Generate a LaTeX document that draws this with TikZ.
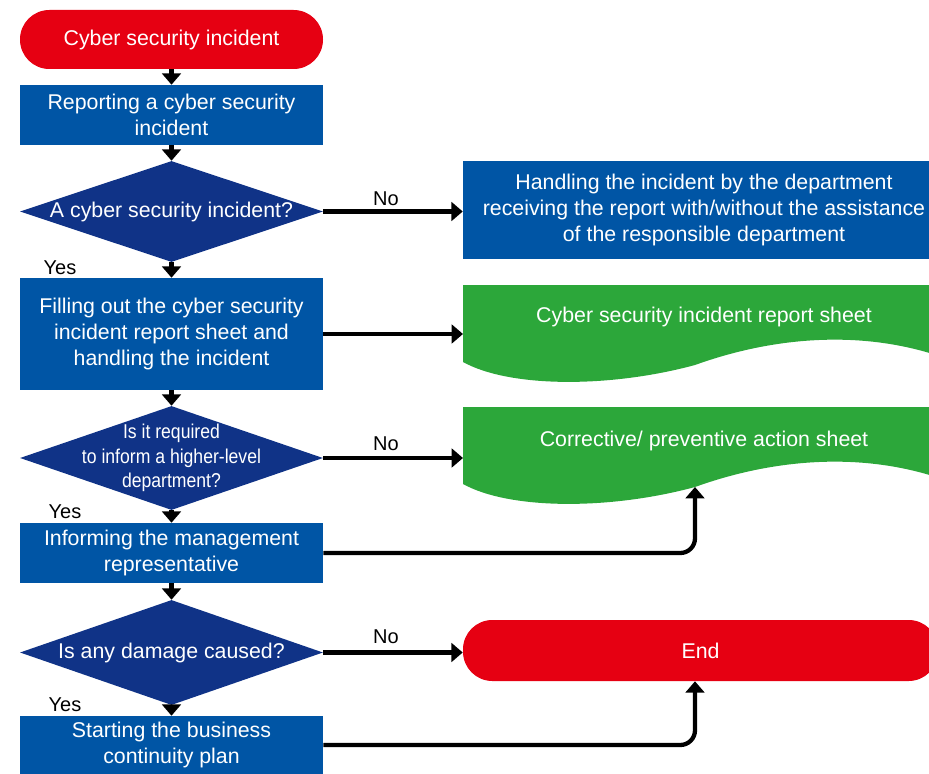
\documentclass[tikz,border=0pt]{standalone}
\usepackage{fontspec}
\setmainfont{Liberation Sans}
\newfontfamily\narrowfont[FakeStretch=0.88]{Liberation Sans}
\usepackage{tikz}
\usetikzlibrary{shapes.geometric,arrows.meta}

\definecolor{termred}{HTML}{E60012}
\definecolor{procblue}{HTML}{0055A5}
\definecolor{decnavy}{HTML}{103387}
\definecolor{sheetgreen}{HTML}{2CA73A}

\tikzset{
  boxfont/.style={font=\fontsize{16}{19.5}\selectfont},
  terminal/.style={rectangle, rounded corners=22pt, fill=termred, text=white, inner sep=0pt, boxfont},
  process/.style={rectangle, fill=procblue, text=white, align=center, inner sep=0pt, boxfont},
  decision/.style={diamond, fill=decnavy, inner sep=0pt, minimum width=227.25pt},
  dectext/.style={text=white, align=center, inner sep=0pt, boxfont},
  sheettext/.style={text=white, inner sep=0pt, boxfont},
  answer/.style={inner sep=0pt, font=\fontsize{15}{18}\selectfont},
  flow/.style={line width=3.2pt, -{Triangle[length=8.5pt,width=14pt]}},
}

\begin{document}
\begin{tikzpicture}[x=0.75pt,y=0.75pt,yscale=-1,xscale=1]
    \path[use as bounding box, clip] (0,0) rectangle (929,774);

    %Left column
    \node[terminal, minimum width=227.25pt, minimum height=44.25pt] (start) at (171.5,39.5) {Cyber security incident};
    \node[process, minimum width=227.25pt, minimum height=45pt] (report) at (171.5,115) {Reporting a cyber security\\incident};
    \node[decision, minimum height=75.75pt, label={[dectext]center:A cyber security incident?}] (q1) at (171.5,211.5) {};
    \node[process, minimum width=227.25pt, minimum height=84pt] (fill) at (171.5,334) {Filling out the cyber security\\incident report sheet and\\handling the incident};
    \node[decision, minimum height=78pt, label={[dectext, font=\narrowfont\fontsize{15}{18.5}\selectfont]center:{Is it required\\to inform a higher-level\\department?}}] (q2) at (171.5,458) {};
    \node[process, minimum width=227.25pt, minimum height=45pt] (inform) at (171.5,553) {Informing the management\\representative};
    \node[decision, minimum height=78.75pt, label={[dectext]center:Is any damage caused?}] (q3) at (171.5,652.5) {};
    \node[process, minimum width=227.25pt, minimum height=43.5pt] (bcp) at (171.5,745) {Starting the business\\continuity plan};

    %Right column
    \node[process, minimum width=361.5pt, minimum height=73.5pt] (handle) at (704,210) {Handling the incident by the department\\receiving the report with/without the assistance\\of the responsible department};
    % Document shape 1
    \fill[sheetgreen] (463,285) coordinate (sheet1 nw) -- (945,285) -- (945,358)
        .. controls (860,328) and (770,338) .. (695,365) coordinate (sheet1 in)
        .. controls (610,388) and (510,388) .. (463,362) -- cycle;
    \node[sheettext] (sheet1 text) at (704,317) {Cyber security incident report sheet};
    % Document shape 2
    \fill[sheetgreen] (463,407) coordinate (sheet2 nw) -- (945,407) -- (945,480)
        .. controls (860,450) and (770,460) .. (695,487) coordinate (sheet2 in)
        .. controls (610,510) and (510,510) .. (463,484) -- cycle;
    \node[sheettext] (sheet2 text) at (704,441) {Corrective/ preventive action sheet};
    \node[terminal, minimum width=356.25pt, minimum height=45.75pt] (end) at (700.5,650.5) {End};

    %Flow Lines
    \draw[flow] (start) -- (report);
    \draw[flow] (report) -- (q1);
    \draw[flow] (q1) -- (fill);
    \draw[flow] (fill) -- (q2);
    \draw[flow] (q2) -- (inform);
    \draw[flow] (inform) -- (q3);
    \draw[flow] (q3) -- (bcp);
    \draw[flow] (q1.east) -- (q1.east -| handle.west);
    \draw[flow] (fill.east) -- (fill.east -| sheet1 nw);
    \draw[flow] (q2.east) -- (q2.east -| sheet2 nw);
    \draw[flow] (q3.east) -- (q3.east -| end.west);
    \draw[flow, rounded corners=11pt] (inform.east) -| (sheet2 in);
    \draw[flow, rounded corners=11pt] (bcp.east) -| (end.south -| sheet2 in);

    % Text Node
    \node[answer] (no1) at (386,199) {No};
    \node[answer] (no2) at (386,444) {No};
    \node[answer] (no3) at (386,637) {No};
    \node[answer] (yes1) at (60,268) {Yes};
    \node[answer] (yes2) at (65,512) {Yes};
    \node[answer] (yes3) at (65,705) {Yes};

\end{tikzpicture}
\end{document}
